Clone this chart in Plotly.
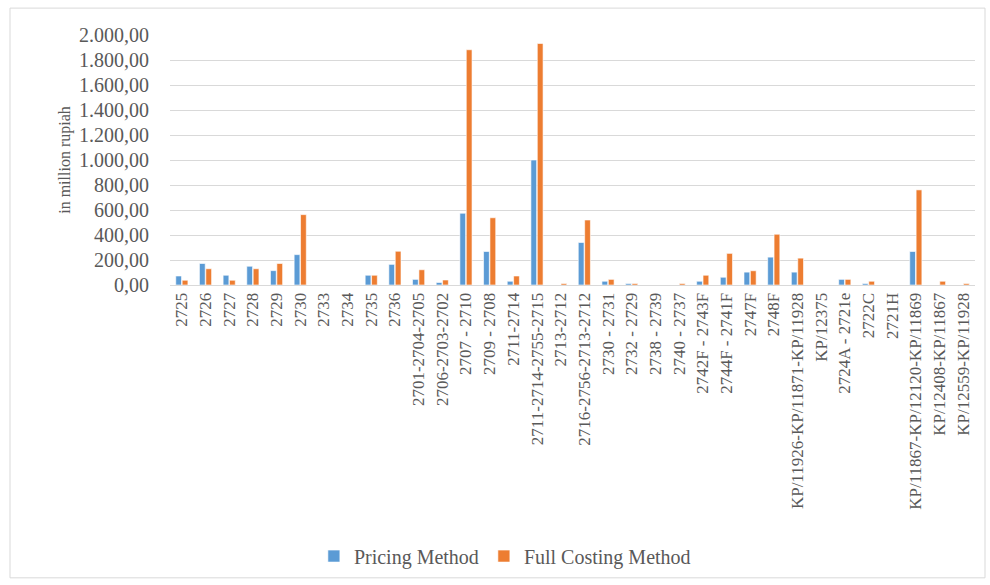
import plotly.graph_objects as go

categories = [
    "2725", "2726", "2727", "2728", "2729", "2730", "2733", "2734", "2735", "2736",
    "2701-2704-2705", "2706-2703-2702", "2707 - 2710", "2709 - 2708", "2711-2714",
    "2711-2714-2755-2715", "2713-2712", "2716-2756-2713-2712", "2730 - 2731",
    "2732 - 2729", "2738 - 2739", "2740 - 2737", "2742F - 2743F", "2744F - 2741F",
    "2747F", "2748F", "KP/11926-KP/11871-KP/11928", "KP/12375", "2724A - 2721e",
    "2722C", "2721H", "KP/11867-KP/12120-KP/11869", "KP/12408-KP/11867",
    "KP/12559-KP/11928",
]

pricing_method = [
    72, 172, 78, 150, 115, 243, 0, 0, 78, 165,
    45, 20, 574, 268, 30,
    1000, 0, 340, 30,
    12, 0, 0, 30, 62,
    103, 223, 103, 0, 45,
    12, 0, 268, 0,
    0,
]

full_costing_method = [
    38, 130, 38, 130, 172, 563, 0, 0, 78, 270,
    122, 40, 1882, 538, 72,
    1932, 12, 520, 45,
    12, 0, 12, 78, 253,
    114, 406, 215, 0, 45,
    30, 0, 761, 30,
    12,
]

y_ticks = [0, 200, 400, 600, 800, 1000, 1200, 1400, 1600, 1800, 2000]

serif = "Times New Roman, Liberation Serif, serif"
grey_text = "#595959"

fig = go.Figure()
fig.add_trace(go.Bar(
    x=categories, y=pricing_method, name="Pricing Method",
    marker=dict(color="#5B9BD5", line=dict(color="white", width=0.6)),
))
fig.add_trace(go.Bar(
    x=categories, y=full_costing_method, name="Full Costing Method",
    marker=dict(color="#ED7D31", line=dict(color="white", width=0.6)),
))

fig.update_layout(
    width=990, height=585,
    margin=dict(l=170, r=15, t=35, b=299),
    paper_bgcolor="white", plot_bgcolor="white",
    separators=",.",
    barmode="group", bargap=0.46, bargroupgap=0.1,
    font=dict(family=serif, color=grey_text, size=15),
    showlegend=True,
    legend=dict(
        orientation="h", x=0.416, xanchor="center", y=-1.076, yanchor="middle",
        font=dict(family=serif, size=20, color=grey_text),
        itemwidth=30, tracegroupgap=0,
    ),
    xaxis=dict(
        tickangle=-90, tickfont=dict(family=serif, size=17, color=grey_text),
        showline=True, linecolor="#d9d9d9", linewidth=1,
        ticks="", showgrid=False,
    ),
    yaxis=dict(
        range=[0, 2000], tickvals=y_ticks, tickformat=",.2f",
        tickfont=dict(family=serif, size=20, color=grey_text),
        showgrid=True, gridcolor="#d9d9d9", gridwidth=1.3,
        zeroline=False, ticks="", ticklen=0, ticklabelstandoff=20,
        title=dict(text="in million rupiah", font=dict(family=serif, size=16, color=grey_text), standoff=4),
    ),
    shapes=[dict(
        type="rect", xref="paper", yref="paper",
        x0=(10 - 170) / 805, x1=(985 - 170) / 805,
        y0=(286 - 580) / 251, y1=(286 - 8) / 251,
        line=dict(color="#d9d9d9", width=1), fillcolor="rgba(0,0,0,0)",
    )],
)

fig.write_html("out.html")
